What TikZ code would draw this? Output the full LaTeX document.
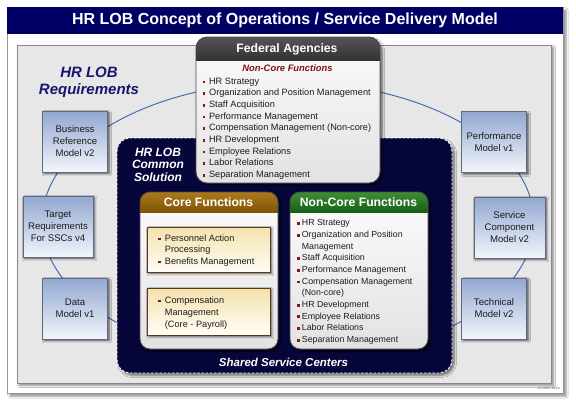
\documentclass[tikz,border=0pt]{standalone}
\usepackage{fontspec}
\setmainfont{Liberation Sans}
\usetikzlibrary{shadows.blur}
\definecolor{navytitle}{RGB}{0,0,100}
\definecolor{navybox}{RGB}{6,6,58}
\definecolor{reqblue}{RGB}{22,22,112}
\definecolor{bluetop}{RGB}{146,168,208}
\definecolor{bluebot}{RGB}{242,245,252}
\definecolor{blueborder}{RGB}{95,105,125}
\definecolor{arcblue}{RGB}{70,110,175}
\definecolor{fedtop}{RGB}{85,85,85}
\definecolor{fedbot}{RGB}{50,50,50}
\definecolor{coretop}{RGB}{172,122,28}
\definecolor{corebot}{RGB}{128,84,6}
\definecolor{nctop}{RGB}{62,142,52}
\definecolor{ncbot}{RGB}{22,96,22}
\definecolor{bodytop}{RGB}{252,252,252}
\definecolor{bodybot}{RGB}{226,226,226}
\definecolor{creamtop}{RGB}{244,226,172}
\definecolor{creambot}{RGB}{255,253,246}
\definecolor{creamborder}{RGB}{92,56,26}
\definecolor{bulred}{RGB}{140,20,20}
\definecolor{ncred}{RGB}{128,18,18}
\definecolor{txt}{RGB}{28,28,28}
\definecolor{panelgray}{RGB}{231,231,231}
\newlength\bulw
\newcommand\bul{\makebox[\bulw][l]{\textcolor{bulred}{\rule[0.9pt]{2.8pt}{2.8pt}}}}
\newcommand\ind{\hspace*{\bulw}}
\begin{document}
\begin{tikzpicture}[x=1pt,y=-1pt,
  every node/.style={outer sep=0pt},
  card/.style={draw={rgb,255:red,150;green,150;blue,150}, line width=0.8pt, fill=white,
    blur shadow={shadow xshift=3pt, shadow yshift=-3pt, shadow blur steps=6, shadow opacity=45}},
  titlebar/.style={fill=navytitle, inner sep=0},
  titletext/.style={text=white, font=\fontsize{16}{18}\selectfont\bfseries},
  panel/.style={draw={rgb,255:red,135;green,135;blue,135}, line width=0.8pt, fill=panelgray,
    blur shadow={shadow xshift=2.5pt, shadow yshift=-2.5pt, shadow blur steps=5, shadow opacity=45}},
  arcline/.style={draw=arcblue, line width=1pt},
  bluebox/.style={draw=blueborder, line width=0.8pt, top color=bluetop, bottom color=bluebot,
    blur shadow={shadow xshift=1.8pt, shadow yshift=-1.8pt, shadow blur steps=4, shadow opacity=65},
    align=center, text=txt, inner sep=0, font=\fontsize{9.6}{12}\selectfont},
  navy/.style={fill=navybox, draw=white, line width=0.9pt, dash pattern=on 2.6pt off 1.6pt, rounded corners=13pt,
    blur shadow={shadow xshift=2.5pt, shadow yshift=-2.5pt, shadow blur steps=5, shadow opacity=50}},
  bigbox/.style={top color=bodytop, bottom color=bodybot, rounded corners=11pt, inner sep=0,
    blur shadow={shadow xshift=2.5pt, shadow yshift=-2.5pt, shadow blur steps=5, shadow opacity=55}},
  bigborder/.style={draw={rgb,255:red,70;green,70;blue,70}, line width=0.8pt, rounded corners=11pt},
  headtext/.style={text=white, font=\fontsize{12.2}{14}\selectfont\bfseries},
  creambox/.style={draw=creamborder, line width=0.9pt, top color=creamtop, bottom color=creambot, inner sep=0,
    blur shadow={shadow xshift=1.8pt, shadow yshift=-1.8pt, shadow blur steps=4, shadow opacity=60}},
  itemf/.style={anchor=base west, inner sep=0, text=txt, font=\setlength\bulw{6.6pt}\fontsize{9.2}{11}\selectfont},
  itemn/.style={anchor=base west, inner sep=0, text=txt, font=\setlength\bulw{5.2pt}\fontsize{8.8}{11}\selectfont},
  itemc/.style={anchor=base west, inner sep=0, text=txt, font=\setlength\bulw{6.6pt}\fontsize{9.2}{11}\selectfont},
  whiteital/.style={text=white, align=center, font=\bfseries\itshape}
]
\useasboundingbox (0,0) rectangle (576,408);
\fill[white] (0,0) rectangle (576,408);

% outer card and title
\node[card, minimum width=556pt, minimum height=386pt] (card) at (285,200) {};
\node[titlebar, minimum width=556pt, minimum height=27pt] (tbar) at (285,20.5) {};
\node[titletext] (title) at (285,20.5) {HR LOB Concept of Operations / Service Delivery Model};

% inner panel
\node[panel, minimum width=534pt, minimum height=338pt] (panel) at (284,214) {};

% label
\node[text=reqblue, align=center, font=\fontsize{15}{16.5}\selectfont\bfseries\itshape] (req) at (89,82.5) {HR LOB\\Requirements};

% ellipse
\draw[arcline] (288,222) ellipse [x radius=246pt, y radius=140pt];

% blue boxes
\node[bluebox, minimum width=65pt, minimum height=61pt] (brm) at (75,141.5) {Business\\Reference\\Model v2};
\node[bluebox, minimum width=70pt, minimum height=61pt] (trq) at (58,226.5) {Target\\Requirements\\For SSCs v4};
\node[bluebox, minimum width=65pt, minimum height=61pt] (dm) at (75,308.5) {Data\\Model v1};
\node[bluebox, minimum width=65pt, minimum height=61pt] (pm) at (494,142) {Performance\\Model v1};
\node[bluebox, minimum width=71pt, minimum height=61pt] (scm) at (509.5,227.5) {Service\\Component\\Model v2};
\node[bluebox, minimum width=65pt, minimum height=61pt] (tm) at (494,308.5) {Technical\\Model v2};

% navy shared service centers
\node[navy, minimum width=335pt, minimum height=235pt] (ssc) at (284.5,255.5) {};
\node[whiteital, font=\fontsize{12}{12.5}\selectfont\bfseries\itshape] (common) at (158,164.5) {HR LOB\\Common\\Solution};
\node[whiteital, font=\fontsize{11.5}{13}\selectfont\bfseries\itshape] (sscl) at (283.5,362) {Shared Service Centers};

% Federal Agencies
\node[bigbox, minimum width=184pt, minimum height=146pt] (fed) at (288,110) {};
\begin{scope}
  \clip[rounded corners=11pt] (fed.north west) rectangle (fed.south east);
  \shade[top color=fedtop, bottom color=fedbot] (fed.north west) rectangle ([yshift=-23pt]fed.north east);
\end{scope}
\draw[bigborder] (fed.north west) rectangle (fed.south east);
\node[headtext] (fedh) at (287,49) {Federal Agencies};
\node[text=ncred, font=\fontsize{9.4}{11}\selectfont\bfseries\itshape] (fednc) at (287.5,68) {Non-Core Functions};
\foreach \t [count=\i] in {{\bul HR Strategy},{\bul Organization and Position Management},{\bul Staff Acquisition},{\bul Performance Management},{\bul Compensation Management (Non-core)},{\bul HR Development},{\bul Employee Relations},{\bul Labor Relations},{\bul Separation Management}}
  \node[itemf] (fa\i) at (202.5,{84.3+(\i-1)*11.66}) {\t};

% Core Functions
\node[bigbox, rounded corners=10pt, minimum width=138pt, minimum height=157pt] (core) at (209,270.5) {};
\begin{scope}
  \clip[rounded corners=10pt] (core.north west) rectangle (core.south east);
  \shade[top color=coretop, bottom color=corebot] (core.north west) rectangle ([yshift=-20pt]core.north east);
\end{scope}
\draw[bigborder, rounded corners=10pt] (core.north west) rectangle (core.south east);
\node[headtext] (coreh) at (208.5,202) {Core Functions};
\node[creambox, minimum width=123pt, minimum height=45pt] (cr1) at (208.5,249.5) {};
\node[creambox, minimum width=123pt, minimum height=47pt] (cr2) at (208.5,311.5) {};
\foreach \t [count=\i] in {{\bul Personnel Action},{\ind Processing},{\bul Benefits Management}}
  \node[itemc] (ca\i) at (158.3,{241.3+(\i-1)*11.5}) {\t};
\foreach \t [count=\i] in {{\bul Compensation},{\ind Management},{\ind (Core - Payroll)}}
  \node[itemc] (cb\i) at (158.3,{303.3+(\i-1)*12}) {\t};

% Non-Core Functions
\node[bigbox, rounded corners=10pt, minimum width=138pt, minimum height=157pt] (nc) at (359,270.5) {};
\begin{scope}
  \clip[rounded corners=10pt] (nc.north west) rectangle (nc.south east);
  \shade[top color=nctop, bottom color=ncbot] (nc.north west) rectangle ([yshift=-20pt]nc.north east);
\end{scope}
\draw[bigborder, rounded corners=10pt] (nc.north west) rectangle (nc.south east);
\node[headtext] (nch) at (358.5,202) {Non-Core Functions};
\foreach \t [count=\i] in {{\bul HR Strategy},{\bul Organization and Position},{\ind Management},{\bul Staff Acquisition},{\bul Performance Management},{\bul Compensation Management},{\ind (Non-core)},{\bul HR Development},{\bul Employee Relations},{\bul Labor Relations},{\bul Separation Management}}
  \node[itemn] (na\i) at (296.7,{225.9+(\i-1)*11.66}) {\t};

% corner id
\node[anchor=east, inner sep=0, text={rgb,255:red,110;green,110;blue,110}, font=\fontsize{3.6}{4}\selectfont] (docid) at (560,388.5) {10-0087-002a};
\end{tikzpicture}
\end{document}
